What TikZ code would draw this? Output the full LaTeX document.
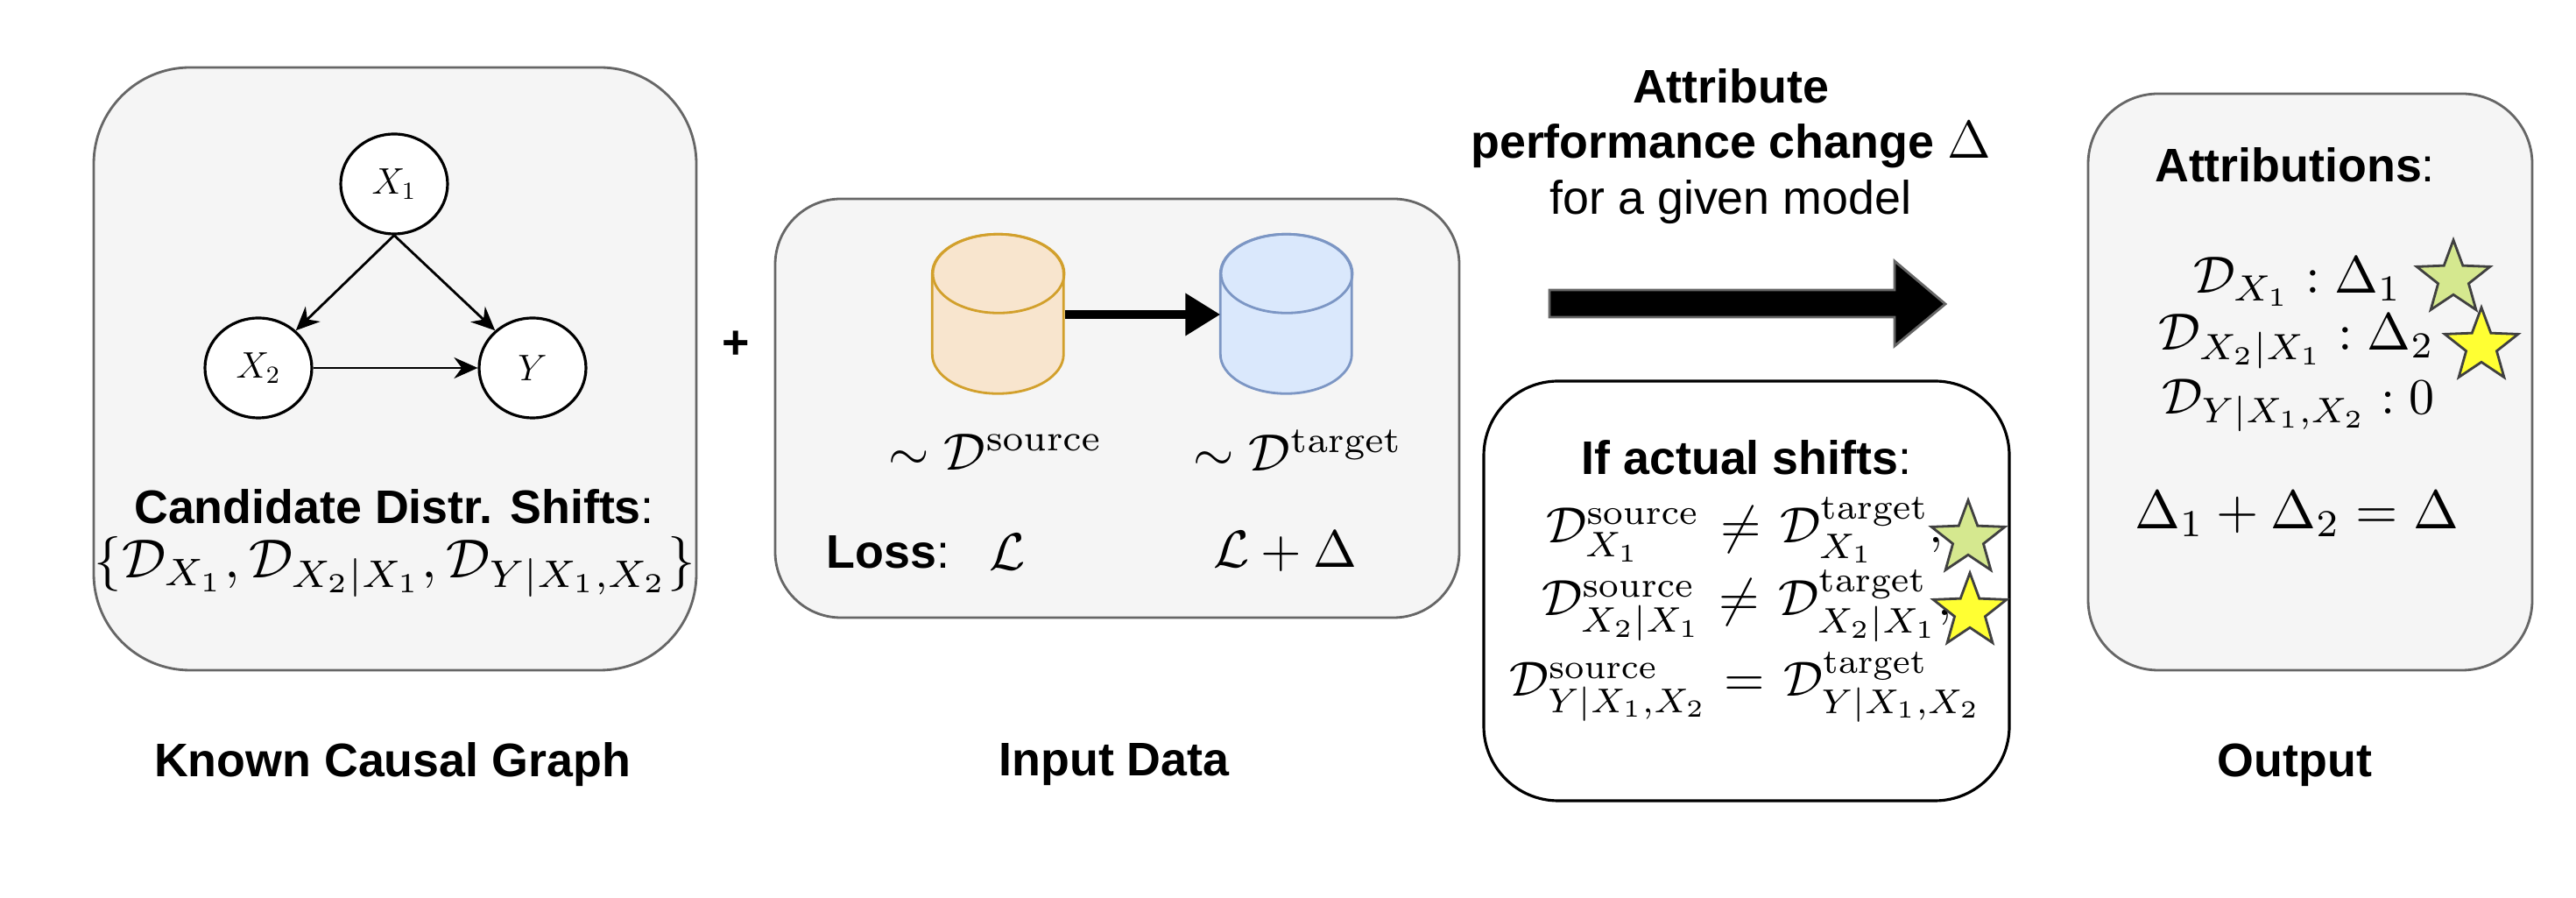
\documentclass[tikz,border=0pt]{standalone}
\usepackage{amsmath}
\usepackage[no-math]{fontspec}
\setsansfont{Liberation Sans}
\usetikzlibrary{arrows.meta,shapes.geometric}

\definecolor{panelfill}{HTML}{F5F5F5}
\definecolor{panelline}{HTML}{666666}
\definecolor{srcfill}{HTML}{F8E5CE}
\definecolor{srcline}{HTML}{D2A02C}
\definecolor{tgtfill}{HTML}{DAE8FC}
\definecolor{tgtline}{HTML}{7C96C4}
\definecolor{starone}{HTML}{D5E88F}
\definecolor{startwo}{HTML}{FFFF33}

\tikzset{
  panel/.style={draw=panelline, fill=panelfill, line width=0.8pt, inner sep=0},
  varnode/.style={ellipse, draw, fill=white, line width=0.9pt, minimum width=1.22cm, minimum height=1.14cm, inner sep=0, font=\large},
  dbase/.style={minimum width=1.5cm, minimum height=1.82cm, inner sep=0},
  edgearrow/.style={-{Stealth[length=0.27cm,width=0.24cm]}, line width=0.8pt},
  title/.style={font=\fontsize{15.3}{18}\selectfont\sffamily\bfseries},
  bigmath/.style={scale=1.7, inner sep=0},
  starmark/.style={star, star points=5, star point ratio=2.4, draw=black!75, line width=0.8pt, minimum size=0.88cm, inner sep=0}
}

\begin{document}
\begin{tikzpicture}
  \useasboundingbox (0,0) rectangle (29.41,10.25);

  % causal graph panel
  \node[panel, rounded corners=1.1cm, minimum width=6.88cm, minimum height=6.88cm] (graphbox) at (4.51,6.04) {};
  \node[varnode] (xone) at (4.50,8.15) {$X_1$};
  \node[varnode] (xtwo) at (2.95,6.05) {$X_2$};
  \node[varnode] (yvar) at (6.08,6.05) {$Y$};
  \draw[edgearrow] (xone.south) -- (xtwo.45);
  \draw[edgearrow] (xone.south) -- (yvar.135);
  \draw[edgearrow] (xtwo) -- (yvar);
  \node[title] (cand) at (4.50,4.47) {Candidate Distr. Shifts\textmd{:}};
  \node[bigmath, scale=1.05] (candset) at (4.51,3.78) {$\{\mathcal{D}_{X_1},\mathcal{D}_{X_2|X_1},\mathcal{D}_{Y|X_1,X_2}\}$};
  \node[title] (graphname) at (4.48,1.52) {Known Causal Graph};
  \node[title] (plus) at (8.40,6.31) {+};

  % input data panel
  \node[panel, rounded corners=0.75cm, minimum width=7.81cm, minimum height=4.78cm] (databox) at (12.755,5.59) {};
  \node[dbase] (srcdb) at (11.40,6.66) {};
  \node[dbase] (tgtdb) at (14.69,6.66) {};
  \foreach \db/\fc/\lc in {srcdb/srcfill/srcline, tgtdb/tgtfill/tgtline}
           {
             \draw[draw=\lc, fill=\fc, line width=0.8pt] (\db.north west) ++(0,-0.45) -- ++(0,-0.92)
               arc[x radius=0.75, y radius=0.45, start angle=180, end angle=360] -- ++(0,0.92)
               arc[x radius=0.75, y radius=0.45, start angle=0, end angle=180];
             \draw[draw=\lc, line width=0.8pt] (\db.north) ++(0,-0.45) ellipse[x radius=0.75, y radius=0.45];
           }
  \draw[-{Triangle[length=0.4cm,width=0.46cm]}, line width=0.1cm] (srcdb.east) -- (tgtdb.west);
  \node[bigmath] (srclabel) at (11.37,5.09) {$\sim\mathcal{D}^{\mathrm{source}}$};
  \node[bigmath] (tgtlabel) at (14.82,5.11) {$\sim\mathcal{D}^{\mathrm{target}}$};
  \node[title, anchor=west, inner sep=0] (loss) at (9.43,3.95) {Loss\textmd{:}};
  \node[bigmath] (lossone) at (11.50,3.95) {$\mathcal{L}$};
  \node[bigmath] (losstwo) at (14.67,3.95) {$\mathcal{L}+\Delta$};
  \node[title] (dataname) at (12.72,1.52) {Input Data};

  % attribute arrow
  \node[title, align=center, inner sep=0] (attr) at (19.76,8.58) {Attribute\\performance change \scalebox{1.2}{$\Delta$}\\\textmd{for a given model}};
  \draw[draw=panelline, fill=black, line width=0.8pt] (17.69,6.94) -- (21.63,6.94) -- (21.63,7.27) -- (22.21,6.78) -- (21.63,6.30) -- (21.63,6.63) -- (17.69,6.63) -- cycle;

  % actual shifts panel
  \node[draw, fill=white, line width=0.9pt, rounded corners=0.85cm, minimum width=6cm, minimum height=4.79cm, inner sep=0] (shiftbox) at (19.94,3.505) {};
  \node[title] (ifshift) at (19.94,5.03) {If actual shifts\textmd{:}};
  \node[bigmath, scale=0.97, anchor=base east] (lhsa) at (19.42,4.05) {$\mathcal{D}^{\mathrm{source}}_{X_1}$};
  \node[bigmath, anchor=base] (neqa) at (19.88,4.05) {$\neq$};
  \node[bigmath, scale=0.97, anchor=base west] (rhsa) at (20.31,4.05) {$\mathcal{D}^{\mathrm{target}}_{X_1},$};
  \node[bigmath, scale=0.97, anchor=base east] (lhsb) at (19.44,3.22) {$\mathcal{D}^{\mathrm{source}}_{X_2|X_1}$};
  \node[bigmath, anchor=base] (neqb) at (19.86,3.22) {$\neq$};
  \node[bigmath, scale=0.97, anchor=base west] (rhsb) at (20.29,3.22) {$\mathcal{D}^{\mathrm{target}}_{X_2|X_1},$};
  \node[bigmath, scale=0.94, anchor=base east] (lhsc) at (19.51,2.30) {$\mathcal{D}^{\mathrm{source}}_{Y|X_1,X_2}$};
  \node[bigmath, anchor=base] (eqc) at (19.92,2.30) {$=$};
  \node[bigmath, scale=0.94, anchor=base west] (rhsc) at (20.35,2.30) {$\mathcal{D}^{\mathrm{target}}_{Y|X_1,X_2}$};
  \node[starmark, fill=starone] (stara) at (22.47,4.10) {};
  \node[starmark, fill=startwo] (starb) at (22.49,3.27) {};

  % output panel
  \node[panel, rounded corners=0.8cm, minimum width=5.07cm, minimum height=6.58cm] (outbox) at (26.375,5.89) {};
  \node[title] (attrib) at (26.20,8.37) {Attributions\textmd{:}};
  \node[bigmath] (rowa) at (26.23,7.03) {$\mathcal{D}_{X_1}:\Delta_1$};
  \node[bigmath] (rowb) at (26.22,6.35) {$\mathcal{D}_{X_2|X_1}:\Delta_2$};
  \node[bigmath, scale=0.97] (rowc) at (26.24,5.62) {$\mathcal{D}_{Y|X_1,X_2}:0$};
  \node[bigmath, scale=1.04] (rowd) at (26.22,4.38) {$\Delta_1+\Delta_2=\Delta$};
  \node[starmark, fill=starone] (starc) at (28.01,7.07) {};
  \node[starmark, fill=startwo] (stard) at (28.33,6.30) {};
  \node[title] (outname) at (26.20,1.52) {Output};
\end{tikzpicture}
\end{document}
